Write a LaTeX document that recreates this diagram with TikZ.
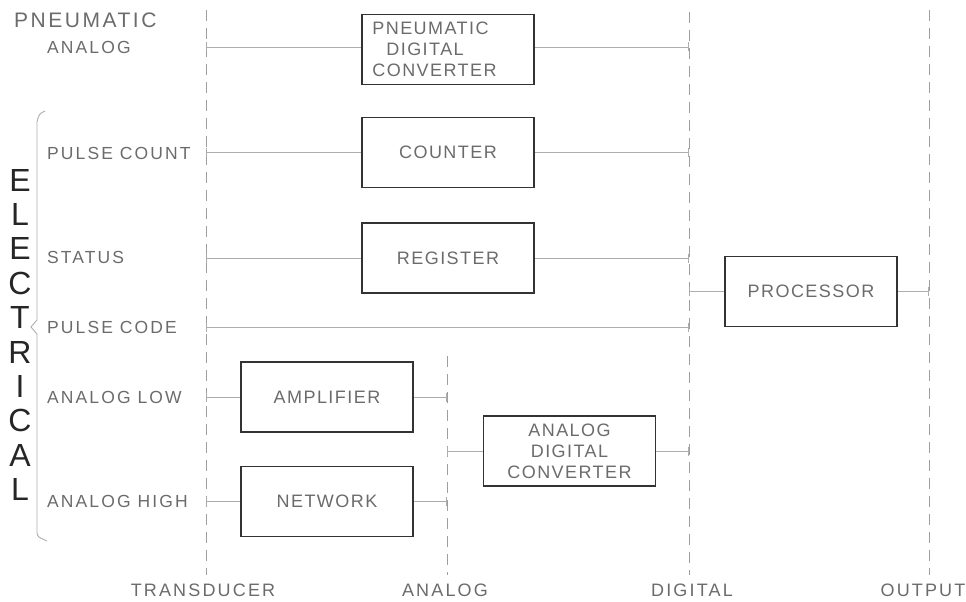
\documentclass[tikz,border=0pt]{standalone}
\usepackage{fontspec}
\setmainfont{Liberation Sans}
\newfontfamily\lblfont[LetterSpace=12]{Liberation Sans}
\newfontfamily\boxfont[LetterSpace=8]{Liberation Sans}
\usetikzlibrary{arrows.meta}
\definecolor{ink}{gray}{0.2}
\definecolor{lettering}{gray}{0.42}
\definecolor{wirecol}{gray}{0.68}
\definecolor{buscol}{gray}{0.62}

\begin{document}
\begin{tikzpicture}[x=1pt,y=-1pt,
	unit/.style={draw=ink, line width=1.5pt, minimum width=172pt, minimum height=70pt,
		inner sep=0pt, text=lettering, align=center, font=\boxfont\fontsize{18}{21}\selectfont},
	wire/.style={draw=wirecol, line width=0.9pt},
	bus/.style={draw=buscol, line width=0.8pt, dash pattern=on 11pt off 7pt},
	lbl/.style={anchor=west, inner sep=0pt, text=lettering, font=\lblfont\fontsize{17.5}{20}\selectfont},
	foot/.style={inner sep=0pt, text=lettering, font=\lblfont\fontsize{18}{20}\selectfont},
	bigletter/.style={inner sep=0pt, text=black!85, font=\fontsize{32}{32}\selectfont},
	tb/.tip={Bar[width=9pt,line width=0.9pt]}]
	\useasboundingbox (0,0) rectangle (966,602);

	% dashed buses
	\foreach \name/\x/\top in {trans/206/10, ana/447/356, digi/689/12, outp/929/10} {
		\coordinate (\name) at (\x,\top);
		\coordinate (\name-end) at (\x,575);
		\draw[bus] (\name) -- (\name-end);
	}
	\node[foot] (transl) at (203,590) {TRANSDUCER};
	\node[foot] (anal) at (445,590) {ANALOG};
	\node[foot] (digil) at (692,590) {DIGITAL};
	\node[foot] (outpl) at (923,590) {OUTPUT};

	% input kinds
	\node[lbl, font=\lblfont\fontsize{21}{24}\selectfont] (pneu) at (14,20) {PNEUMATIC};
	\node[lbl] (inpa) at (47,47) {ANALOG};
	\node[lbl] (inpc) at (47,153) {PULSE COUNT};
	\node[lbl] (inps) at (47,257) {STATUS};
	\node[lbl] (inpp) at (47,327) {PULSE CODE};
	\node[lbl] (inpl) at (47,397) {ANALOG LOW};
	\node[lbl] (inph) at (47,501) {ANALOG HIGH};

	\foreach \ch [count=\i from 0] in {E,L,E,C,T,R,I,C,A,L}
		\node[bigletter] (el\i) at (20,180+34.4*\i) {\ch};
	\draw[wirecol, line width=0.9pt] (45,111) .. controls (39,114) .. (37,122) -- (37,320)
		-- (31,327) -- (37,334) -- (37,533) .. controls (38,537) .. (47,541);

	% blocks
	\node[unit, align=left] (pdc) at (448,49.5) {PNEUMATIC\\\hspace*{14pt}DIGITAL\\CONVERTER\hspace*{27pt}};
	\node[unit] (cnt) at (448,152.5) {COUNTER};
	\node[unit] (reg) at (448,258) {REGISTER};
	\node[unit] (proc) at (811,291.5) {PROCESSOR};
	\node[unit] (amp) at (327,397) {AMPLIFIER};
	\node[unit] (net) at (327,501.5) {NETWORK};
	\node[unit] (adc) at (569.5,451) {ANALOG\\DIGITAL\\CONVERTER};

	% connectors
	\draw[wire, {tb}-] (inpa -| trans) -- (inpa -| pdc.west);
	\draw[wire, -{tb}] (inpa -| pdc.east) -- (inpa -| digi);
	\draw[wire, {tb}-] (cnt -| trans) -- (cnt);
	\draw[wire, -{tb}] (cnt) -- (cnt -| digi);
	\draw[wire, {tb}-] (reg -| trans) -- (reg);
	\draw[wire, -{tb}] (reg) -- (reg -| digi);
	\draw[wire, {tb}-{tb}] (inpp -| trans) -- (inpp -| digi);
	\draw[wire, {tb}-] (proc -| digi) -- (proc);
	\draw[wire, -{tb}] (proc) -- (proc -| outp);
	\draw[wire, {tb}-] (amp -| trans) -- (amp);
	\draw[wire, -{tb}] (amp) -- (amp -| ana);
	\draw[wire, {tb}-] (net -| trans) -- (net);
	\draw[wire, -{tb}] (net) -- (net -| ana);
	\draw[wire, {tb}-] (adc -| ana) -- (adc);
	\draw[wire, -{tb}] (adc) -- (adc -| digi);
\end{tikzpicture}
\end{document}
